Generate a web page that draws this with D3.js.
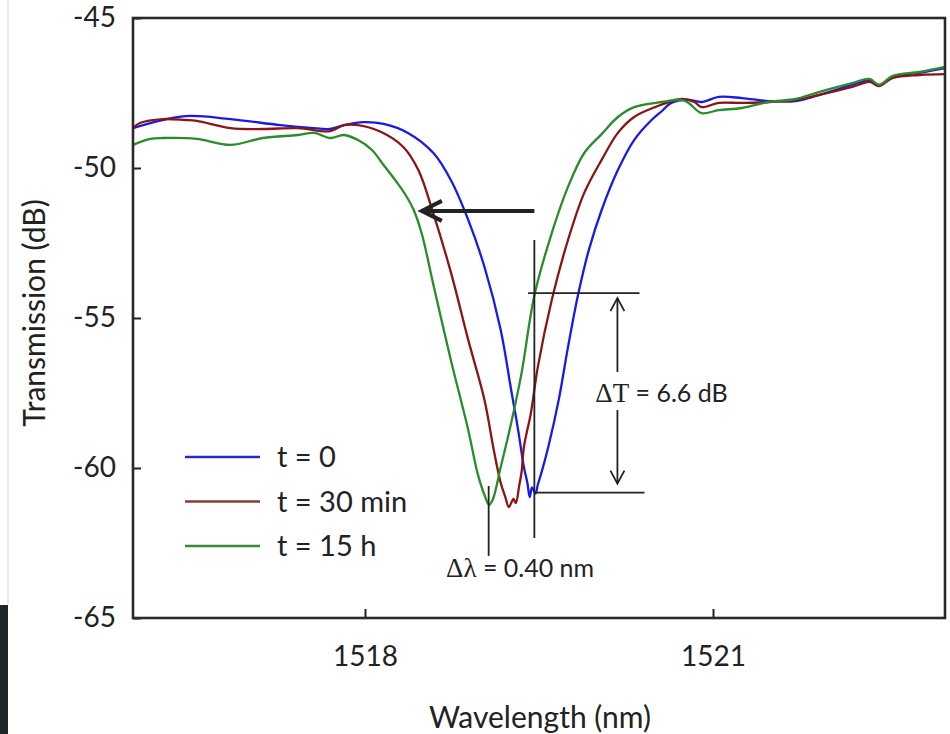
<!DOCTYPE html>
<html>
<head>
<meta charset="utf-8">
<script src="https://cdn.jsdelivr.net/npm/d3@7"></script>
<style>
  html, body { margin: 0; padding: 0; background: #fff; }
  svg { display: block; }
  text { font-family: Lato, "Open Sans", sans-serif; fill: #222; }
</style>
</head>
<body>
<svg id="chart" width="950" height="734"></svg>
<script>
// ---------------- DATA ----------------
const seriesNames = ["t = 0", "t = 30 min", "t = 15 h"];
const xTicks = [1518, 1521];
const yTicks = [-45, -50, -55, -60, -65];

// t = 0 (blue)
const lambda0 = [1516.00, 1516.45, 1516.84, 1517.27, 1517.53, 1517.70, 1517.82, 1517.99, 1518.16, 1518.37,
                 1518.59, 1518.74, 1518.89, 1519.03, 1519.17, 1519.26, 1519.32, 1519.37, 1519.40, 1519.42,
                 1519.44, 1519.47, 1519.49, 1519.52, 1519.58, 1519.67, 1519.75, 1519.84, 1519.93, 1520.04,
                 1520.18, 1520.32, 1520.47, 1520.56, 1520.64, 1520.79, 1520.90, 1521.05, 1521.25, 1521.48,
                 1521.71, 1521.91, 1522.20, 1522.35, 1522.43, 1522.55, 1522.78, 1523.00];
const trans0  = [-48.67, -48.27, -48.37, -48.57, -48.66, -48.70, -48.57, -48.47, -48.53, -48.83,
                 -49.50, -50.40, -51.73, -53.30, -55.40, -57.40, -58.73, -59.97, -60.50, -60.97,
                 -60.65, -60.85, -60.55, -60.17, -59.30, -57.73, -55.97, -54.17, -52.73, -51.40,
                 -50.07, -49.07, -48.40, -48.10, -47.83, -47.73, -47.80, -47.63, -47.67, -47.77,
                 -47.77, -47.57, -47.23, -47.07, -47.23, -46.97, -46.83, -46.67];

// t = 30 min (dark red)
const lambda1 = [1516.00, 1516.06, 1516.26, 1516.45, 1516.55, 1516.84, 1517.12, 1517.42, 1517.70, 1517.82,
                 1517.94, 1518.14, 1518.33, 1518.46, 1518.59, 1518.74, 1518.89, 1519.03, 1519.11, 1519.17,
                 1519.21, 1519.24, 1519.28, 1519.30, 1519.33, 1519.35, 1519.37, 1519.43, 1519.49, 1519.61,
                 1519.75, 1519.89, 1520.04, 1520.18, 1520.32, 1520.50, 1520.73, 1520.84, 1520.90, 1521.05,
                 1521.25, 1521.48, 1521.71, 1521.91, 1522.20, 1522.35, 1522.43, 1522.55, 1522.78, 1523.00];
const trans1  = [-48.67, -48.50, -48.37, -48.40, -48.43, -48.67, -48.70, -48.67, -48.77, -48.57,
                 -48.57, -48.80, -49.30, -50.07, -51.53, -53.47, -55.73, -57.73, -59.40, -60.50,
                 -60.97, -61.30, -61.03, -61.17, -60.57, -60.13, -59.30, -58.17, -56.63, -54.40,
                 -52.40, -50.83, -49.73, -48.83, -48.30, -47.97, -47.70, -47.80, -47.97, -47.83,
                 -47.83, -47.80, -47.73, -47.57, -47.30, -47.13, -47.27, -47.00, -46.90, -46.87];

// t = 15 h (green)
const lambda2 = [1516.00, 1516.15, 1516.26, 1516.55, 1516.84, 1517.12, 1517.42, 1517.56, 1517.70, 1517.82,
                 1517.94, 1518.06, 1518.16, 1518.26, 1518.35, 1518.42, 1518.49, 1518.59, 1518.74, 1518.89,
                 1518.97, 1519.03, 1519.07, 1519.10, 1519.17, 1519.26, 1519.35, 1519.46, 1519.61, 1519.75,
                 1519.89, 1520.04, 1520.18, 1520.32, 1520.56, 1520.73, 1520.79, 1520.90, 1521.05, 1521.25,
                 1521.48, 1521.71, 1521.91, 1522.20, 1522.35, 1522.43, 1522.55, 1522.78, 1523.00];
const trans2  = [-49.23, -49.03, -49.00, -49.03, -49.23, -49.00, -48.90, -48.83, -49.00, -48.90,
                 -49.07, -49.40, -49.90, -50.40, -50.90, -51.40, -52.20, -53.90, -56.40, -58.73,
                 -60.17, -60.90, -61.23, -61.07, -59.97, -58.50, -56.83, -54.25, -52.17, -50.63,
                 -49.50, -48.87, -48.30, -47.97, -47.80, -47.73, -47.83, -48.17, -48.07, -48.00,
                 -47.80, -47.70, -47.47, -47.17, -47.03, -47.23, -46.93, -46.80, -46.63];

const colors = ["#1a1ae6", "#8b1414", "#2a8c2a"];
const legendColors = ["#2a2ac4", "#8b3a3a", "#3a8a3a"];

// annotations (data units)
const shiftArrow = {from: 1519.46, to: 1518.49, t: -51.43};
const markerLambda = [1519.066, 1519.46];
const dTlevels = [-54.17, -60.82];

// ---------------- CHART ----------------
const svg = d3.select("#chart");
const L = 133, R = 945, T = 18, B = 618;
const x = d3.scaleLinear().domain([1516, 1523]).range([L, R]);
const y = d3.scaleLinear().domain([-65, -45]).range([B, T]);

// scan artifacts at the left edge of the reference image
svg.append("line").attr("x1", 8).attr("x2", 8).attr("y1", 0).attr("y2", 605)
  .attr("stroke", "#e4e4e4").attr("stroke-width", 1.5);
svg.append("rect").attr("x", 0).attr("y", 605).attr("width", 8).attr("height", 129).attr("fill", "#1f2529");

// curves
const series = [
  d3.zip(lambda0, trans0),
  d3.zip(lambda1, trans1),
  d3.zip(lambda2, trans2)
];
const line = d3.line().x(d => x(d[0])).y(d => y(d[1])).curve(d3.curveCatmullRom.alpha(0.5));
[0, 1, 2].forEach(i => {
  svg.append("path").datum(series[i])
    .attr("d", line)
    .attr("fill", "none")
    .attr("stroke", colors[i])
    .attr("stroke-width", 2.3)
    .attr("stroke-linejoin", "round");
});

// axes
const yAxis = d3.axisLeft(y).tickValues(yTicks).tickSize(-8).tickPadding(17).tickFormat(d => String(d));
const gy = svg.append("g").attr("transform", `translate(${L},0)`).call(yAxis);
const xAxis = d3.axisBottom(x).tickValues(xTicks).tickSize(-9).tickPadding(28).tickFormat(d => String(d));
const gx = svg.append("g").attr("transform", `translate(0,${B})`).call(xAxis);
[gx, gy].forEach(g => {
  g.select(".domain").remove();
  g.selectAll(".tick line").attr("stroke", "#222").attr("stroke-width", 2);
  g.selectAll(".tick text").attr("font-family", "Lato, sans-serif").attr("font-size", 28).attr("fill", "#222");
});
gx.selectAll(".tick text").attr("dy", "0.71em");

// frame
svg.append("rect").attr("x", L).attr("y", T).attr("width", R - L).attr("height", B - T)
  .attr("fill", "none").attr("stroke", "#2a2a2a").attr("stroke-width", 2.6);

// axis titles
svg.append("text").attr("x", 540).attr("y", 728)
  .attr("text-anchor", "middle").attr("font-size", 30).text("Wavelength (nm)");
svg.append("text").attr("transform", `translate(45,313) rotate(-90)`)
  .attr("text-anchor", "middle").attr("font-size", 30).text("Transmission (dB)");

// legend
const legend = svg.append("g");
seriesNames.forEach((name, i) => {
  const ly = 457 + i * 44.5;
  legend.append("line").attr("x1", 185).attr("x2", 260).attr("y1", ly).attr("y2", ly)
    .attr("stroke", legendColors[i]).attr("stroke-width", 2.6);
  legend.append("text").attr("x", 277).attr("y", ly).attr("dy", "0.35em")
    .attr("font-size", 29).text(name);
});

// annotations
const ann = svg.append("g").attr("stroke", "#222").attr("fill", "none");
// big shift arrow
ann.append("line").attr("x1", x(shiftArrow.from)).attr("x2", x(shiftArrow.to) + 2)
  .attr("y1", y(shiftArrow.t)).attr("y2", y(shiftArrow.t)).attr("stroke-width", 4);
ann.append("path")
  .attr("d", `M${x(shiftArrow.to) + 20},${y(shiftArrow.t) - 10} L${x(shiftArrow.to)},${y(shiftArrow.t)} L${x(shiftArrow.to) + 20},${y(shiftArrow.t) + 10}`)
  .attr("stroke-width", 4).attr("stroke-linejoin", "miter");

// vertical markers for delta lambda
ann.append("line").attr("x1", x(markerLambda[0])).attr("x2", x(markerLambda[0]))
  .attr("y1", y(-60.6)).attr("y2", y(-62.93)).attr("stroke-width", 1.8);
ann.append("line").attr("x1", x(markerLambda[1])).attr("x2", x(markerLambda[1]))
  .attr("y1", y(-52.4)).attr("y2", y(-62.33)).attr("stroke-width", 1.8);

// horizontal levels for delta T
ann.append("line").attr("x1", x(1519.406)).attr("x2", x(1520.366))
  .attr("y1", y(dTlevels[0])).attr("y2", y(dTlevels[0])).attr("stroke-width", 1.8);
ann.append("line").attr("x1", x(markerLambda[1])).attr("x2", x(1520.409))
  .attr("y1", y(dTlevels[1])).attr("y2", y(dTlevels[1])).attr("stroke-width", 1.8);

// double arrow
const ax = x(1520.176);
const yTop = y(dTlevels[0]) + 5, yBot = y(dTlevels[1]) - 9;
ann.append("line").attr("x1", ax).attr("x2", ax).attr("y1", yTop).attr("y2", y(-56.8)).attr("stroke-width", 1.8);
ann.append("line").attr("x1", ax).attr("x2", ax).attr("y1", y(-58.07)).attr("y2", yBot).attr("stroke-width", 1.8);
ann.append("path").attr("d", `M${ax - 7},${yTop + 13} L${ax},${yTop} L${ax + 7},${yTop + 13}`).attr("stroke-width", 1.8);
ann.append("path").attr("d", `M${ax - 7},${yBot - 13} L${ax},${yBot} L${ax + 7},${yBot - 13}`).attr("stroke-width", 1.8);

// labels
const dT = svg.append("text").attr("x", x(1520.556)).attr("y", y(-57.5)).attr("dy", "0.35em")
  .attr("text-anchor", "middle").attr("font-size", 25);
dT.append("tspan").attr("font-family", "'Liberation Serif', serif").attr("font-size", 27).text("\u0394T");
dT.append("tspan").text(" = 6.6 dB");

const dL = svg.append("text").attr("x", x(1519.337)).attr("y", y(-63.33)).attr("dy", "0.35em")
  .attr("text-anchor", "middle").attr("font-size", 25);
dL.append("tspan").attr("font-family", "'Liberation Serif', serif").attr("font-size", 27).text("\u0394\u03bb");
dL.append("tspan").text(" = 0.40 nm");
</script>
</body>
</html>
